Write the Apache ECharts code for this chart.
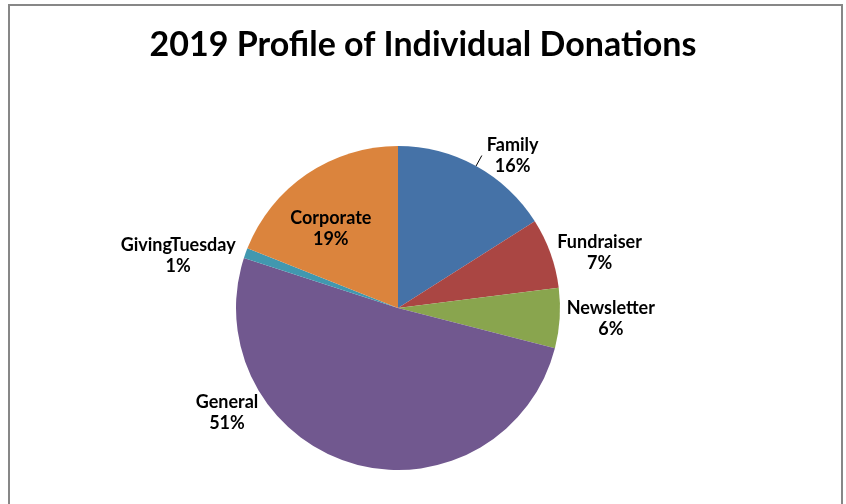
<!DOCTYPE html>
<html>
<head>
<meta charset="utf-8">
<script src="https://cdn.jsdelivr.net/npm/echarts@6/dist/echarts.min.js"></script>
<style>
  html, body { margin: 0; padding: 0; background: #ffffff; }
  #chart { width: 846px; height: 504px; }
</style>
</head>
<body>
<div id="chart"></div>
<script>
// Donation sources for 2019, share of total (percent)
const categories = ['Family', 'Fundraiser', 'Newsletter', 'General', 'GivingTuesday', 'Corporate'];
const shares = [16, 7, 6, 51, 1, 19];
const sliceColors = ['#4572A7', '#AA4643', '#89A54E', '#71588F', '#4198AF', '#DB843D'];
const chartTitle = '2019 Profile of Individual Donations';

const FONT = 'Lato, "Open Sans", sans-serif';

// label placement tweaks per slice (pixels)
const labelNudge = {
  General: [-89, -53],
  Corporate: [-20, -10],
  GivingTuesday: [-3, 3]
};

const data = categories.map((name, i) => {
  const item = { name: name, value: shares[i], itemStyle: { color: sliceColors[i] } };
  if (name === 'Family') {
    item.labelLine = { show: true, length: 12, length2: 0, lineStyle: { color: '#000', width: 1 } };
  } else {
    item.labelLine = { show: false, length: 2, length2: 0 };
  }
  if (name === 'Corporate') {
    item.label = { position: 'inside' };
  }
  return item;
});

const chart = echarts.init(document.getElementById('chart'), null, { renderer: 'canvas' });

chart.setOption({
  animation: false,
  backgroundColor: '#ffffff',
  title: {
    text: chartTitle,
    left: 418,
    top: 23,
    textAlign: 'center',
    textStyle: { fontFamily: FONT, fontWeight: 'bold', fontSize: 34, color: '#000' }
  },
  graphic: [{
    type: 'rect',
    shape: { x: 9, y: 5, width: 833, height: 600 },
    style: { fill: 'none', stroke: '#878787', lineWidth: 2 },
    silent: true
  }],
  series: [{
    type: 'pie',
    center: [398, 308],
    radius: 162,
    startAngle: 90,
    clockwise: true,
    avoidLabelOverlap: false,
    data: data,
    label: {
      show: true,
      position: 'outside',
      distanceToLabelLine: 5,
      formatter: (p) => '{t|' + p.name + '}\n{t|' + Math.round(p.percent) + '%}',
      rich: {
        t: { align: 'center', fontFamily: FONT, fontWeight: 'bold', fontSize: 18, color: '#000', lineHeight: 21 }
      }
    },
    labelLayout: (p) => {
      const n = labelNudge[categories[p.dataIndex]];
      return n ? { dx: n[0], dy: n[1] } : {};
    },
    itemStyle: { borderWidth: 0 },
    emphasis: { disabled: true }
  }]
});
</script>
</body>
</html>
